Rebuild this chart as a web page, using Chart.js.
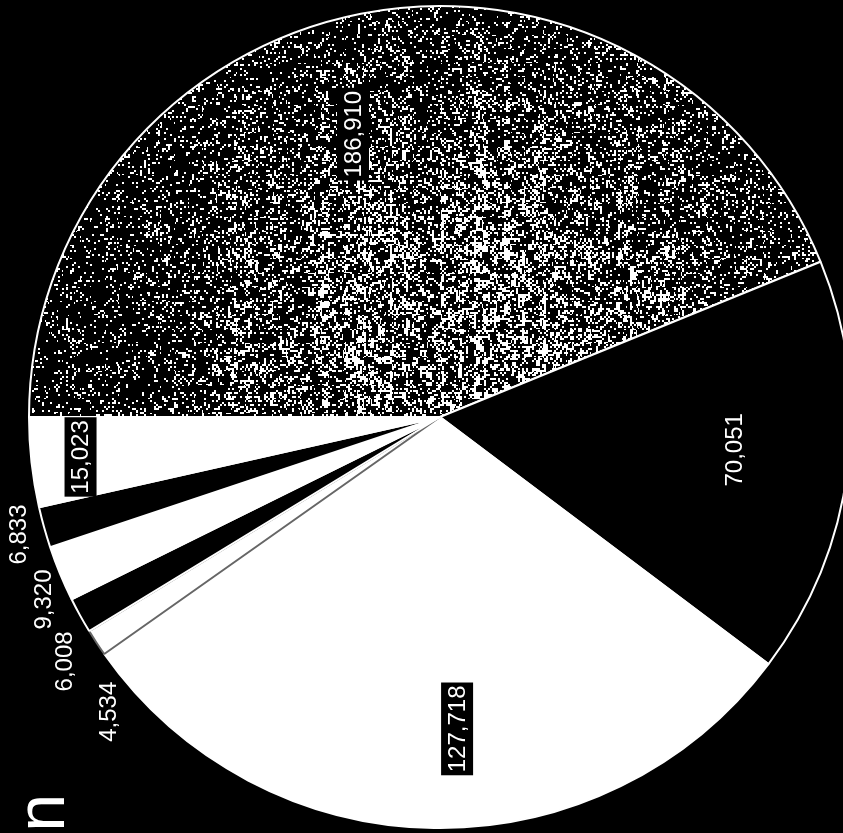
<!DOCTYPE html>
<html>
<head>
<meta charset="utf-8">
<title>Pastel</title>
<script src="https://cdn.jsdelivr.net/npm/chart.js@4.4.1/dist/chart.umd.min.js"></script>
<style>
html, body { margin: 0; padding: 0; background: #000; overflow: hidden; }
#contenedor { position: absolute; left: 0; top: 0; width: 880px; height: 833px; }
</style>
</head>
<body>
<div id="contenedor"><canvas id="graficaPastel"></canvas></div>
<script>
// datos (orden en sentido horario desde la izquierda)
var valores = [186910, 70051, 127718, 4534, 6008, 9320, 6833, 15023];
var titulo = "n";

// estilo de cada porcion
var rellenos = ["textura", "#000", "#fff", "#fff", "#000", "#fff", "#000", "#fff"];
var bordes = ["#fff", "#fff", "#fff", "#666", "#fff", "#fff", "#fff", "#fff"];
var radioEtiqueta = [0.72, 0.72, 0.76, 1.08, 1.09, 1.063, 1.065, 0.88];
var ajusteAngulo = [-6, -1, -4, -8.3, -4.2, -2.3, 0, 0];
var conCaja = [true, false, true, false, false, false, false, true];

function frac(n) { return n - Math.floor(n); }

// textura de puntos claros para la porcion grande
function crearTextura(ctx) {
  var c = document.createElement("canvas");
  c.width = 880; c.height = 833;
  var g = c.getContext("2d");
  var img = g.createImageData(c.width, c.height);
  for (var y = 0; y < c.height; y++) {
    var fila = frac(Math.sin(Math.floor(y / 2) * 3.317) * 9173.31);
    for (var x = 0; x < c.width; x++) {
      var bx = Math.floor(x / 2), by = Math.floor(y / 2);
      var h = frac(Math.sin(bx * 12.9898 + by * 78.233) * 43758.5453);
      var hb = frac(Math.sin(Math.floor(x / 7) * 7.13 + Math.floor(y / 7) * 3.71) * 24634.63);
      var col = frac(Math.sin(Math.floor(x / 3) * 1.731) * 5821.7);
      var dx = x - 470, dy = y - 330;
      var dens = 0.07 + 0.3 * Math.exp(-(dx * dx + dy * dy) / (270 * 270));
      if (col > 0.8) dens *= 1.6;
      var blanco = h < dens * (0.2 + 1.6 * hb);
      if (fila > 0.985 && h < 0.6) blanco = true;
      var i = (y * c.width + x) * 4;
      var v = blanco ? 255 : 0;
      img.data[i] = v; img.data[i + 1] = v; img.data[i + 2] = v; img.data[i + 3] = 255;
    }
  }
  g.putImageData(img, 0, 0);
  return ctx.createPattern(c, "no-repeat");
}

var etiquetasPlugin = {
  id: "etiquetas",
  afterDatasetsDraw: function(chart) {
    var ctx = chart.ctx;
    var arcos = chart.getDatasetMeta(0).data;
    ctx.save();
    ctx.font = '24px "Liberation Sans", Arial, sans-serif';
    ctx.textAlign = "center";
    ctx.textBaseline = "middle";
    arcos.forEach(function(arco, i) {
      var p = arco.getProps(["x", "y", "startAngle", "endAngle", "outerRadius"]);
      var ang = (p.startAngle + p.endAngle) / 2 + ajusteAngulo[i] * Math.PI / 180;
      var r = p.outerRadius * radioEtiqueta[i];
      var texto = valores[i].toLocaleString("en-US");
      ctx.save();
      ctx.translate(p.x + Math.cos(ang) * r, p.y + Math.sin(ang) * r);
      ctx.rotate(-Math.PI / 2);
      if (conCaja[i]) {
        var w = ctx.measureText(texto).width;
        ctx.fillStyle = "#000";
        ctx.fillRect(-w / 2 - 3, -16, w + 6, 32);
      }
      ctx.fillStyle = "#fff";
      ctx.fillText(texto, 0, 1);
      ctx.restore();
    });
    // titulo cortado, girado
    ctx.save();
    ctx.translate(64, 794);
    ctx.rotate(-Math.PI / 2);
    ctx.font = '68px "Liberation Sans", Arial, sans-serif';
    ctx.textAlign = "right";
    ctx.textBaseline = "alphabetic";
    ctx.fillStyle = "#fff";
    ctx.fillText(titulo, 0, 0);
    ctx.restore();
    ctx.restore();
  }
};

var lienzo = document.getElementById("graficaPastel").getContext("2d");
var textura = crearTextura(lienzo);
var colores = rellenos.map(function(c) { return c === "textura" ? textura : c; });

var pastel = new Chart(lienzo, {
  type: "pie",
  data: {
    labels: valores.map(function(v) { return v.toLocaleString("en-US"); }),
    datasets: [{
      data: valores,
      backgroundColor: colores,
      borderColor: bordes,
      borderWidth: 2
    }]
  },
  options: {
    responsive: true,
    maintainAspectRatio: false,
    animation: false,
    events: [],
    rotation: 270,
    layout: { padding: { top: 5, bottom: 4, left: 0, right: 0 } },
    plugins: {
      legend: { display: false },
      tooltip: { enabled: false },
      title: { display: false }
    }
  },
  plugins: [etiquetasPlugin]
});
</script>
</body>
</html>
